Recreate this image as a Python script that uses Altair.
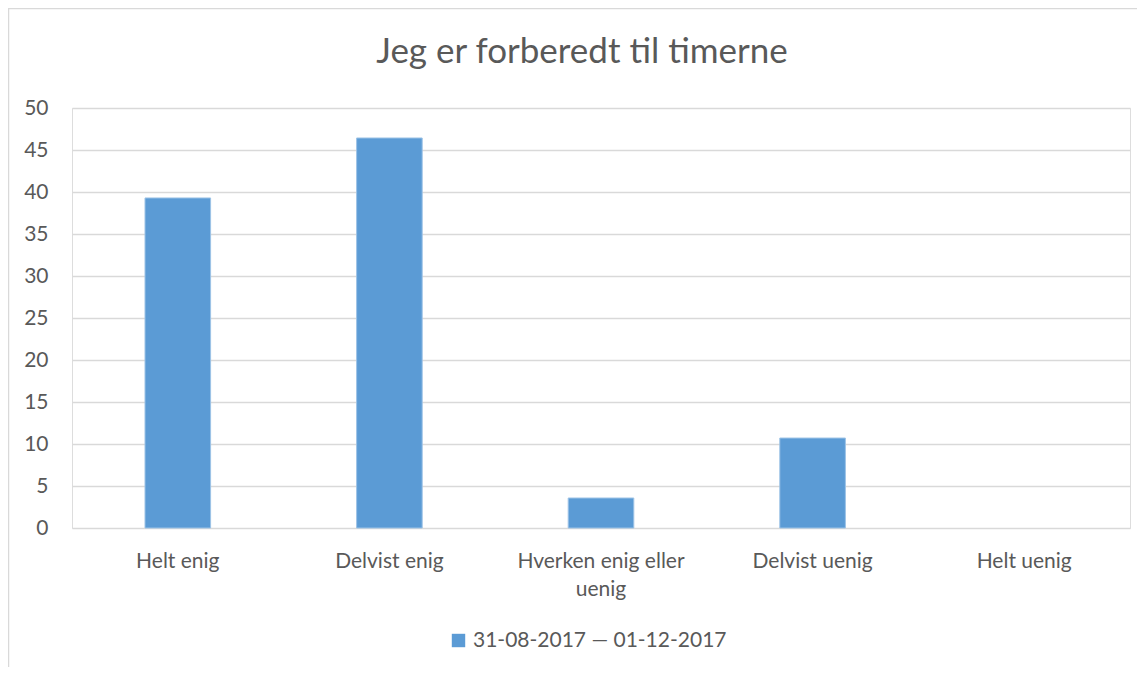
import altair as alt
import pandas as pd

categories = ["Helt enig", "Delvist enig", "Hverken enig eller uenig", "Delvist uenig", "Helt uenig"]
values = [39.29, 46.43, 3.57, 10.71, 0.0]
series_name = "31-08-2017 \u2014 01-12-2017"
y_ticks = [0, 5, 10, 15, 20, 25, 30, 35, 40, 45, 50]
title_text = "Jeg er forberedt til timerne"

df = pd.DataFrame({"kategori": categories, "verdi": values, "serie": [series_name] * len(categories)})

FONT = "Lato"
TXT = "#595959"
GRID = "#d9d9d9"
W, H = 1058, 420

one = pd.DataFrame({"t": [title_text]})

frame = alt.Chart(one).mark_rect(
    fill="transparent", stroke=GRID, strokeWidth=1.5
).encode(
    x=alt.value(-63.5), x2=alt.value(W + 200),
    y=alt.value(-99.5), y2=alt.value(H + 300)
)

title = alt.Chart(one).mark_text(
    font=FONT, fontSize=35, color=TXT, align="center", baseline="alphabetic"
).encode(
    text="t:N", x=alt.value(W / 2 - 19), y=alt.value(-45)
)

bars = alt.Chart(df).mark_bar(stroke="#9DC3E6", strokeWidth=1).encode(
    x=alt.X("kategori:N", sort=categories,
            scale=alt.Scale(paddingInner=0.69, paddingOuter=0.345),
            axis=alt.Axis(title=None, labelAngle=0, labelFontSize=21, labelColor=TXT,
                          labelFont=FONT, labelPadding=22, ticks=False, tickSize=0,
                          domain=False, labelLineHeight=28, labelLimit=300,
                          labelExpr="datum.label == 'Hverken enig eller uenig' ? ['Hverken enig eller', 'uenig'] : datum.label")),
    y=alt.Y("verdi:Q", scale=alt.Scale(domain=[0, 50], nice=False),
            axis=alt.Axis(title=None, values=y_ticks, labelFontSize=21, labelColor=TXT,
                          labelFont=FONT, labelPadding=24, ticks=False, tickSize=0,
                          domain=False, grid=True, gridColor=GRID, gridWidth=1.5)),
    color=alt.Color("serie:N", scale=alt.Scale(range=["#5B9BD5"]),
                    legend=alt.Legend(title=None, orient="none", legendX=376, legendY=522,
                                      symbolType="square", symbolSize=180, symbolStrokeWidth=0,
                                      labelFontSize=21, labelColor=TXT, labelFont=FONT,
                                      labelOffset=4, labelLimit=400)),
    strokeOpacity=alt.condition("datum.verdi > 0", alt.value(1), alt.value(0))
)

chart = alt.layer(frame, bars, title).properties(
    width=W, height=H,
    padding={"left": 64, "top": 100, "right": 7, "bottom": 139},
    autosize=alt.AutoSizeParams(type="none")
).configure_view(stroke=None).configure(background="white")

chart.save("out.html", embed_options={"renderer": "svg", "actions": False})
